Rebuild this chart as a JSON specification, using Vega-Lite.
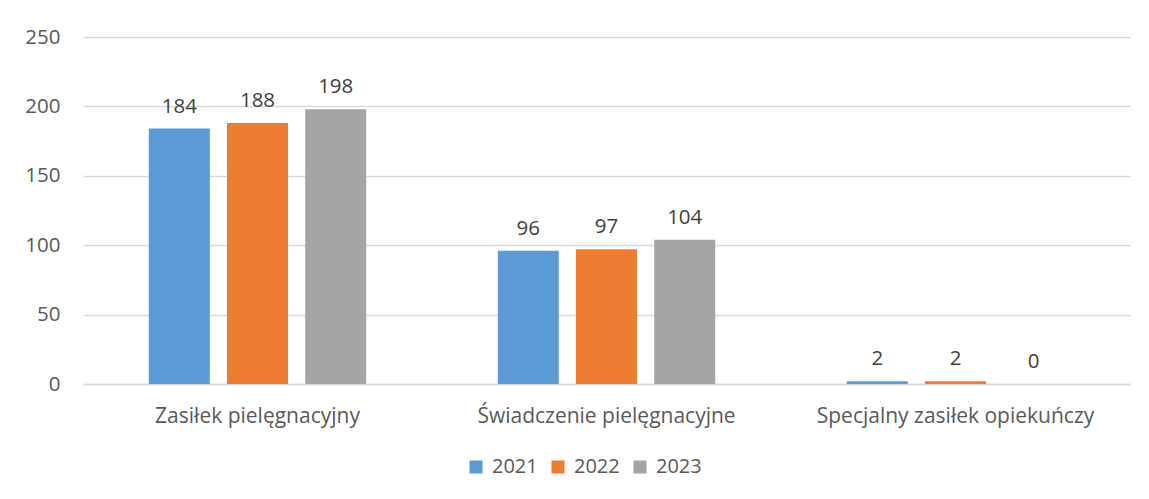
{
  "$schema": "https://vega.github.io/schema/vega-lite/v6.json",
  "autosize": {"type": "none"},
  "width": 1047,
  "height": 347,
  "padding": {"left": 83, "top": 37, "right": 19, "bottom": 115},
  "background": "white",
  "data": {
    "values": [
      {"kategoria": "Zasiłek pielęgnacyjny", "rok": "2021", "liczba": 184},
      {"kategoria": "Zasiłek pielęgnacyjny", "rok": "2022", "liczba": 188},
      {"kategoria": "Zasiłek pielęgnacyjny", "rok": "2023", "liczba": 198},
      {"kategoria": "Świadczenie pielęgnacyjne", "rok": "2021", "liczba": 96},
      {"kategoria": "Świadczenie pielęgnacyjne", "rok": "2022", "liczba": 97},
      {"kategoria": "Świadczenie pielęgnacyjne", "rok": "2023", "liczba": 104},
      {"kategoria": "Specjalny zasiłek opiekuńczy", "rok": "2021", "liczba": 2},
      {"kategoria": "Specjalny zasiłek opiekuńczy", "rok": "2022", "liczba": 2},
      {"kategoria": "Specjalny zasiłek opiekuńczy", "rok": "2023", "liczba": 0}
    ]
  },
  "encoding": {
    "x": {
      "field": "kategoria",
      "type": "nominal",
      "sort": null,
      "title": null,
      "scale": {"paddingInner": 0.377, "paddingOuter": 0.1885},
      "axis": {
        "labelAngle": 0,
        "ticks": false,
        "domainColor": "#d9d9d9",
        "domainWidth": 1.3,
        "labelPadding": 21,
        "labelLimit": 0,
        "labelFont": "Open Sans",
        "labelFontSize": 21,
        "labelColor": "#595959"
      }
    },
    "xOffset": {
      "field": "rok",
      "type": "nominal",
      "scale": {"paddingInner": 0.22, "paddingOuter": 0}
    },
    "y": {
      "field": "liczba",
      "type": "quantitative",
      "title": null,
      "scale": {"domain": [0, 250], "nice": false},
      "axis": {
        "values": [0, 50, 100, 150, 200, 250],
        "domain": false,
        "ticks": false,
        "gridColor": "#d9d9d9",
        "gridWidth": 1.3,
        "labelPadding": 23,
        "labelFont": "Open Sans",
        "labelFontSize": 20.5,
        "labelColor": "#595959"
      }
    }
  },
  "layer": [
    {
      "mark": {"type": "bar"},
      "encoding": {
        "color": {
          "field": "rok",
          "type": "nominal",
          "scale": {"domain": ["2021", "2022", "2023"], "range": ["#5B9BD5", "#ED7D31", "#A5A5A5"]},
          "legend": {
            "title": null,
            "orient": "none",
            "direction": "horizontal",
            "legendX": 383,
            "legendY": 420,
            "symbolType": "square",
            "symbolSize": 170,
            "symbolStrokeWidth": 0,
            "labelFont": "Open Sans",
            "labelFontSize": 20,
            "labelColor": "#595959",
            "columnPadding": 10,
            "labelOffset": 6
          }
        }
      }
    },
    {
      "mark": {
        "type": "text",
        "baseline": "alphabetic",
        "dy": -16,
        "font": "Open Sans",
        "fontSize": 20.5,
        "color": "#404040"
      },
      "encoding": {
        "text": {"field": "liczba", "type": "quantitative"}
      }
    }
  ],
  "config": {
    "view": {"stroke": null}
  }
}
